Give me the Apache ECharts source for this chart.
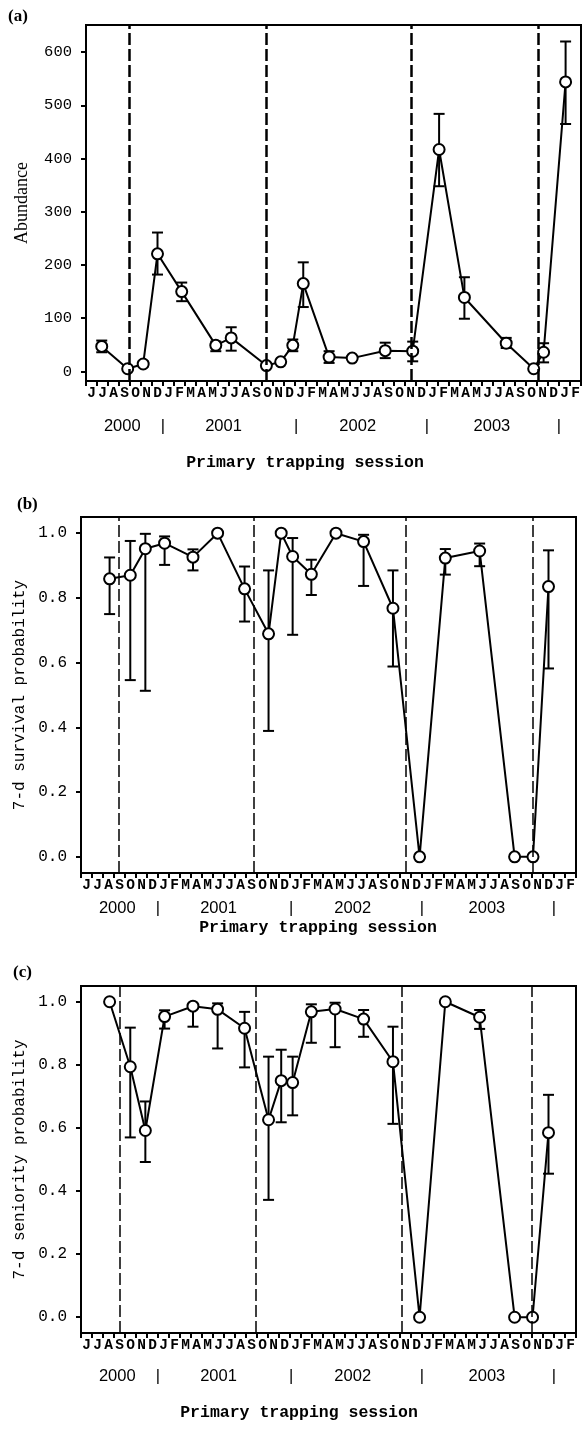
<!DOCTYPE html>
<html>
<head>
<meta charset="utf-8">
<script src="https://cdn.jsdelivr.net/npm/echarts@6/dist/echarts.min.js"></script>
<style>
html,body{margin:0;padding:0;background:#fff;}
#chart{width:582px;height:1435px;}
</style>
</head>
<body>
<div id="chart"></div>
<script>
// ---------- shared axis text ----------
const monthLetters = ['J','J','A','S','O','N','D',
  'J','F','M','A','M','J','J','A','S','O','N','D',
  'J','F','M','A','M','J','J','A','S','O','N','D',
  'J','F','M','A','M','J','J','A','S','O','N','D',
  'J','F'];
const yearPos = [3.3, 7, 12.5, 19.1, 24.7, 31, 36.9, 43];
const yearText = ['2000','|','2001','|','2002','|','2003','|'];
const xTitle = 'Primary trapping session';

// ---------- panel (a) abundance ----------
const aMonth = [1.43, 3.79, 5.2, 6.5, 8.7, 11.8, 13.2, 16.4, 17.7, 18.8, 19.75, 22.1, 24.2, 27.2, 29.7, 32.1, 34.4, 38.2, 40.7, 41.6, 43.6];
const aValue = [47, 5, 14, 221, 150, 49, 63, 11, 18, 49, 165, 27, 25, 39, 38, 417, 139, 53, 5, 36, 544];
const aLow   = [36, null, 9, 182, 132, 38, 39, null, null, 38, 121, 16, null, 25, 19, 348, 99, 44, null, 17, 465];
const aHigh  = [58, null, 19, 261, 167, 56, 83, null, null, 60, 205, 38, null, 54, 56, 484, 177, 63, null, 53, 620];
const aEvents = [3.91, 16.43, 29.6, 41.1];
const aTicks = [0, 100, 200, 300, 400, 500, 600];

// ---------- panel (b) survival ----------
const bMonth = [2.6, 4.48, 5.85, 7.6, 10.18, 12.42, 14.87, 17.05, 18.2, 19.24, 20.94, 23.18, 25.69, 28.36, 30.78, 33.12, 36.24, 39.42, 41.09, 42.5];
const bValue = [0.859, 0.870, 0.952, 0.969, 0.926, 1.0, 0.828, 0.689, 1.0, 0.928, 0.873, 1.0, 0.974, 0.768, 0, 0.923, 0.945, 0, 0, 0.835];
const bLow   = [0.750, 0.546, 0.513, 0.902, 0.885, null, 0.727, 0.389, null, 0.686, 0.809, null, 0.837, 0.588, null, 0.872, 0.898, null, null, 0.582];
const bHigh  = [0.925, 0.976, 0.998, 0.990, 0.950, null, 0.897, 0.885, null, 0.985, 0.918, null, 0.995, 0.885, null, 0.951, 0.968, null, null, 0.947];
const bEvents = [3.42, 15.7, 29.5, 41.1];

// ---------- panel (c) seniority ----------
const cMonth = [2.6, 4.48, 5.85, 7.6, 10.18, 12.42, 14.87, 17.05, 18.2, 19.24, 20.94, 23.1, 25.69, 28.36, 30.78, 33.12, 36.24, 39.42, 41.05, 42.5];
const cValue = [1.0, 0.794, 0.592, 0.953, 0.986, 0.976, 0.916, 0.626, 0.750, 0.744, 0.968, 0.977, 0.945, 0.810, 0, 1.0, 0.951, 0, 0, 0.585];
const cLow   = [null, 0.570, 0.492, 0.915, 0.921, 0.852, 0.792, 0.372, 0.618, 0.640, 0.870, 0.856, 0.889, 0.613, null, null, 0.914, null, null, 0.455];
const cHigh  = [null, 0.918, 0.684, 0.973, 0.994, 0.995, 0.968, 0.826, 0.848, 0.826, 0.992, 0.997, 0.974, 0.921, null, null, 0.974, null, null, 0.705];
const cEvents = [3.5, 15.85, 29.2, 41.0];
const pTicks = [0, 0.2, 0.4, 0.6, 0.8, 1.0];

// ---------- builders ----------
const MONO = 'Liberation Mono';
const SANS = 'Liberation Sans';
const SERIF = 'Liberation Serif';

const monthCenters = monthLetters.map((m, i) => i + 0.5);
const monthEdges = monthLetters.map((m, i) => i).concat([monthLetters.length]);

function panel(idx, g, cfg) {
  const grid = Object.assign({show: true, borderColor: '#000', borderWidth: 2, backgroundColor: 'transparent', outerBoundsMode: 'none'}, g);
  const xMain = {
    gridIndex: idx, type: 'value', min: 0, max: monthLetters.length, position: 'bottom', offset: 0,
    splitLine: {show: false},
    axisLine: {show: true, onZero: false, lineStyle: {color: '#000', width: 2}},
    axisTick: {show: true, inside: false, length: 5, customValues: monthEdges, lineStyle: {color: '#000', width: 2}},
    axisLabel: {show: true, customValues: monthCenters, margin: cfg.monthMargin,
      formatter: v => monthLetters[Math.floor(v)],
      fontFamily: MONO, fontWeight: 'bold', fontSize: 14.5, color: '#000'}
  };
  const xYear = {
    gridIndex: idx, type: 'value', min: 0, max: monthLetters.length, position: 'bottom', offset: 0,
    splitLine: {show: false}, axisLine: {show: false}, axisTick: {show: false},
    axisLabel: {show: true, customValues: yearPos, margin: cfg.yearMargin,
      formatter: v => yearText[yearPos.indexOf(v)],
      fontFamily: SANS, fontSize: 16.5, color: '#000'}
  };
  const y = {
    gridIndex: idx, type: 'value', min: cfg.yMin, max: cfg.yMax,
    splitLine: {show: false},
    axisLine: {show: true, onZero: false, lineStyle: {color: '#000', width: 2}},
    axisTick: {show: true, inside: false, length: 5, customValues: cfg.yTicks, lineStyle: {color: '#000', width: 2}},
    axisLabel: {show: true, customValues: cfg.yTicks, margin: 14, formatter: cfg.yFmt,
      fontFamily: cfg.tickFont, fontSize: cfg.tickSize, color: '#000'},
    name: cfg.yName, nameLocation: 'middle', nameGap: cfg.nameGap,
    nameTextStyle: {fontFamily: cfg.nameFont, fontSize: cfg.nameSize, color: '#000'}
  };
  const errData = [];
  cfg.x.forEach((x, i) => { if (cfg.lo[i] != null) errData.push([x, cfg.lo[i], cfg.hi[i]]); });
  const err = {
    type: 'custom', xAxisIndex: idx * 2, yAxisIndex: idx, z: 2,
    encode: {x: 0, y: [1, 2]},
    data: errData,
    renderItem: function (params, api) {
      const x = api.value(0);
      const pl = api.coord([x, api.value(1)]);
      const ph = api.coord([x, api.value(2)]);
      const hw = 5.5;
      const st = {stroke: '#000', lineWidth: 2};
      return {type: 'group', children: [
        {type: 'line', shape: {x1: pl[0], y1: pl[1], x2: ph[0], y2: ph[1]}, style: st},
        {type: 'line', shape: {x1: ph[0] - hw, y1: ph[1], x2: ph[0] + hw, y2: ph[1]}, style: st},
        {type: 'line', shape: {x1: pl[0] - hw, y1: pl[1], x2: pl[0] + hw, y2: pl[1]}, style: st}
      ]};
    }
  };
  const line = {
    type: 'line', xAxisIndex: idx * 2, yAxisIndex: idx, z: 3,
    data: cfg.x.map((x, i) => [x, cfg.v[i]]),
    symbol: 'circle', symbolSize: 11, showSymbol: true,
    itemStyle: {color: '#fff', borderColor: '#000', borderWidth: 2},
    lineStyle: {color: '#000', width: 2},
    emphasis: {disabled: true},
    animation: false,
    markLine: {
      silent: true, symbol: 'none', animation: false,
      label: {show: false},
      lineStyle: {color: '#000', width: cfg.dashWidth, type: [12, 4]},
      data: cfg.events.map(e => ({xAxis: e}))
    }
  };
  return {grid, xAxes: [xMain, xYear], y, series: [err, line]};
}

const P = [
  panel(0, {left: 86, top: 25, width: 495, height: 356}, {
    x: aMonth, v: aValue, lo: aLow, hi: aHigh, events: aEvents, dashWidth: 2.5,
    yMin: -18, yMax: 651, yTicks: aTicks, yFmt: v => String(v),
    tickFont: MONO, tickSize: 15.5, yName: 'Abundance', nameGap: 55, nameFont: SERIF, nameSize: 18,
    monthMargin: 5, yearMargin: 37
  }),
  panel(1, {left: 81, top: 517, width: 495, height: 356}, {
    x: bMonth, v: bValue, lo: bLow, hi: bHigh, events: bEvents, dashWidth: 1.5,
    yMin: -0.05, yMax: 1.05, yTicks: pTicks, yFmt: v => v.toFixed(1),
    tickFont: MONO, tickSize: 16, yName: '7-d survival probability', nameGap: 53, nameFont: MONO, nameSize: 16,
    monthMargin: 5, yearMargin: 27
  }),
  panel(2, {left: 81, top: 986, width: 495, height: 347}, {
    x: cMonth, v: cValue, lo: cLow, hi: cHigh, events: cEvents, dashWidth: 1.5,
    yMin: -0.05, yMax: 1.05, yTicks: pTicks, yFmt: v => v.toFixed(1),
    tickFont: MONO, tickSize: 16, yName: '7-d seniority probability', nameGap: 53, nameFont: MONO, nameSize: 16,
    monthMargin: 5, yearMargin: 35
  })
];

const panelTags = ['(a)', '(b)', '(c)'];
const tagPos = [[8, 17], [17, 505], [13, 973]];
const xTitlePos = [[305, 463], [318, 928], [299, 1413]];

const graphics = [];
panelTags.forEach((t, i) => graphics.push({
  type: 'text', x: tagPos[i][0], y: tagPos[i][1],
  style: {text: t, font: 'bold 17px "Liberation Serif"', fill: '#000', textAlign: 'left', textVerticalAlign: 'middle'}
}));
xTitlePos.forEach(p => graphics.push({
  type: 'text', x: p[0], y: p[1],
  style: {text: xTitle, font: 'bold 16.5px "Liberation Mono"', fill: '#000', textAlign: 'center', textVerticalAlign: 'middle'}
}));

const chart = echarts.init(document.getElementById('chart'), null, {renderer: 'canvas'});
chart.setOption({
  animation: false,
  backgroundColor: '#fff',
  grid: P.map(p => p.grid),
  xAxis: [].concat(...P.map(p => p.xAxes)),
  yAxis: P.map(p => p.y),
  series: [].concat(...P.map(p => p.series)),
  graphic: graphics
});
</script>
</body>
</html>
